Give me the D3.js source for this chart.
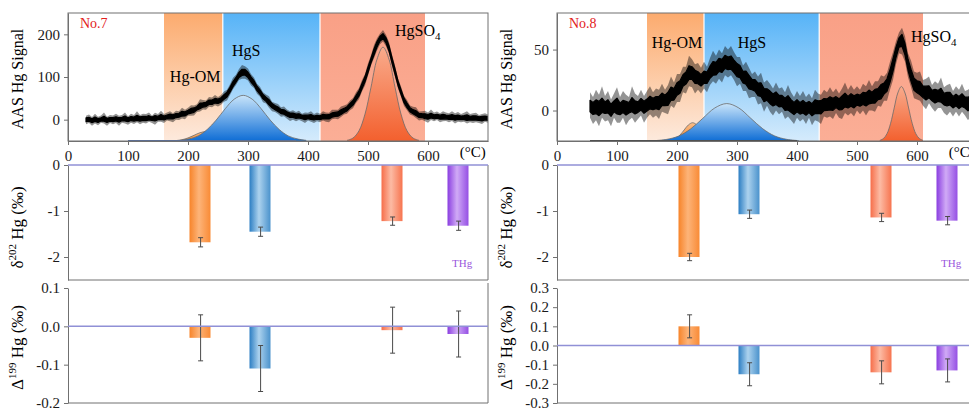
<!DOCTYPE html>
<html>
<head>
<meta charset="utf-8">
<script src="https://d3js.org/d3.v7.min.js"></script>
<style>
body { margin:0; background:#fff; }
svg { display:block; }
text { font-family:"Liberation Serif", "DejaVu Serif", serif; }
.axis path, .axis line { stroke:#707070; }
.axis text { font-size:15px; fill:#1a1a1a; }
</style>
</head>
<body>
<svg id="chart"></svg>
<script>
//data
var tempTicks = [0, 100, 200, 300, 400, 500, 600];
var species = ["Hg-OM", "HgS", "HgSO4", "THg"];
var barTemps = [220, 320, 540, 650];
var sigStep = 5;

// No.7 : AAS trace (centre of the noisy band, and its upper / lower spike reach), every 5 °C from 30 °C
var sigNo7Start = 30;
var sigNo7 = [0, 0, -1, 0, -1, 0, 1, 0, 0, 1,
  1, 1, 1, 2, 1, 2, 2, 2, 3, 3,
  3, 3, 3, 4, 4, 5, 5, 6, 7, 8,
  9, 11, 13, 15, 17, 20, 23, 27, 31, 34,
  37, 40, 41, 43, 44, 46, 52, 60, 70, 82,
  94, 104, 110, 112, 104, 95, 85, 74, 64, 55,
  47, 40, 34, 28, 24, 20, 17, 14, 12, 10,
  9, 8, 7, 6, 6, 5, 5, 5, 5, 6,
  7, 8, 10, 12, 14, 17, 21, 26, 32, 40,
  50, 62, 78, 96, 116, 138, 158, 177, 190, 195,
  186, 166, 140, 112, 86, 64, 46, 33, 24, 18,
  14, 11, 9, 8, 8, 8, 7, 7, 7, 6,
  6, 6, 5, 5, 5, 5, 4, 4, 4, 4,
  3, 3, 3, 3, 3];
var hiNo7 = [9, 12, 7, 14, 8, 10, 16, 7, 11, 9,
  13, 8, 10, 15, 7, 12, 9, 18, 8, 11,
  10, 14, 7, 12, 9, 16, 8, 11, 13, 7,
  12, 9, 15, 8, 11, 14, 10, 9, 17, 12,
  8, 13, 11, 15, 9, 12, 14, 10, 13, 16,
  11, 15, 18, 13, 16, 12, 14, 10, 13, 9,
  12, 15, 8, 11, 13, 9, 14, 10, 8, 12,
  9, 13, 7, 11, 10, 15, 8, 12, 9, 14,
  10, 8, 13, 11, 9, 14, 12, 10, 13, 11,
  14, 12, 15, 11, 16, 13, 17, 14, 12, 15,
  13, 16, 12, 15, 11, 14, 10, 13, 9, 12,
  15, 8, 11, 13, 9, 16, 10, 12, 8, 14,
  11, 9, 15, 10, 13, 8, 12, 16, 9, 11,
  13, 8, 10, 12, 9];
var loNo7 = [11, 8, 13, 9, 12, 7, 10, 14, 8, 12,
  9, 15, 8, 11, 13, 9, 12, 8, 14, 10,
  12, 8, 11, 16, 9, 10, 13, 8, 11, 14,
  9, 12, 10, 14, 8, 11, 13, 9, 12, 10,
  14, 10, 12, 9, 13, 11, 10, 15, 12, 11,
  13, 11, 14, 16, 12, 15, 11, 13, 10, 14,
  9, 12, 14, 10, 11, 13, 9, 12, 15, 10,
  13, 9, 11, 14, 8, 10, 13, 9, 11, 8,
  12, 14, 9, 10, 13, 11, 9, 12, 10, 13,
  11, 14, 12, 16, 13, 11, 14, 15, 13, 12,
  14, 11, 15, 12, 13, 10, 14, 11, 12, 9,
  10, 13, 9, 12, 15, 9, 11, 8, 13, 10,
  9, 12, 8, 14, 10, 11, 9, 13, 10, 12,
  9, 11, 13, 8, 10];
var regionsNo7 = [[160, 258], [258, 420], [420, 595]];
var peakOMNo7 = [[180,-49],[190,-47],[200,-42.8],[210,-36.7],[220,-30.6],[230,-28],[240,-30.6],[250,-36.7],[260,-42.8],[270,-47],[280,-49]];
var peakSNo7 = [[187,-48.5],[202,-45],[217,-38],[232,-23],[247,-1],[262,25.6],[277,48],[292,57],[307,48],[322,25.6],[337,-1],[352,-23],[367,-38],[382,-45],[397,-48.5]];
var peakSO4No7 = [[465,-48.5],[475,-43],[485,-26],[495,13],[505,76],[515,141.6],[525,170],[535,141.6],[545,76],[555,13],[565,-26],[575,-43],[585,-48.5]];
var d202No7 = [-1.68, -1.45, -1.22, -1.32];
var d202ErrNo7 = [0.1, 0.1, 0.09, 0.1];
var d199No7 = [-0.03, -0.11, -0.01, -0.02];
var d199ErrNo7 = [0.06, 0.06, 0.06, 0.06];

// No.8 : every 5 °C from 55 °C
var sigNo8Start = 55;
var sigNo8 = [3, 3, 2, 3, 2, 3, 3, 2, 3, 3,
  2, 2, 3, 3, 3, 3, 3, 4, 4, 4,
  5, 6, 6, 7, 8, 9, 10, 12, 14, 17,
  20, 24, 28, 30, 31, 29, 26, 25, 26, 28,
  31, 33, 35, 37, 38, 39, 39, 38, 36, 34,
  31, 28, 26, 24, 22, 20, 18, 16, 14, 12,
  11, 10, 9, 8, 7, 6, 5, 4, 3, 3,
  2, 2, 2, 2, 2, 2, 3, 4, 4, 5,
  5, 6, 6, 6, 7, 7, 7, 8, 8, 8,
  9, 9, 10, 10, 11, 12, 13, 15, 18, 22,
  28, 38, 48, 56, 58, 50, 38, 28, 22, 19,
  17, 16, 15, 14, 13, 12, 12, 11, 10, 10,
  9, 8, 8, 7, 7, 7, 6, 6, 6, 6];
var hiNo8 = [12, 8, 15, 10, 18, 9, 13, 7, 11, 16,
  9, 14, 10, 8, 17, 11, 9, 13, 8, 12,
  15, 9, 12, 10, 14, 8, 11, 16, 9, 13,
  10, 12, 8, 15, 11, 9, 13, 10, 14, 8,
  12, 16, 10, 13, 9, 14, 11, 15, 12, 10,
  13, 9, 14, 11, 8, 12, 10, 15, 9, 13,
  11, 8, 14, 10, 12, 9, 16, 11, 8, 13,
  10, 14, 9, 12, 8, 15, 11, 9, 13, 10,
  14, 9, 12, 8, 11, 16, 10, 13, 9, 12,
  8, 13, 10, 15, 9, 12, 11, 14, 10, 9,
  12, 10, 9, 8, 10, 11, 9, 13, 10, 12,
  15, 9, 11, 14, 8, 12, 10, 16, 9, 11,
  13, 8, 12, 10, 15, 9, 11, 13, 8, 12];
var loNo8 = [9, 14, 10, 16, 8, 12, 11, 15, 9, 13,
  12, 8, 15, 11, 9, 13, 10, 8, 14, 10,
  8, 12, 10, 14, 9, 11, 13, 8, 12, 10,
  13, 9, 14, 10, 12, 15, 9, 11, 8, 13,
  10, 9, 13, 11, 15, 10, 12, 9, 11, 14,
  9, 12, 10, 14, 11, 9, 13, 10, 15, 8,
  12, 14, 9, 11, 8, 13, 10, 12, 14, 9,
  11, 9, 13, 8, 14, 10, 12, 15, 9, 11,
  10, 13, 8, 12, 14, 9, 11, 10, 13, 8,
  12, 9, 14, 10, 11, 13, 9, 12, 10, 14,
  11, 13, 10, 9, 12, 10, 11, 9, 12, 10,
  9, 12, 14, 8, 11, 13, 10, 9, 12, 14,
  10, 13, 9, 12, 8, 11, 14, 10, 12, 9];
var regionsNo8 = [[150, 245], [245, 437], [437, 610]];
var peakOMNo8 = [[191,-24.3],[198,-23],[205,-20.1],[212,-15.9],[219,-11.8],[226,-10],[233,-11.8],[240,-15.9],[247,-20.1],[254,-23],[261,-24.3]];
var peakSNo8 = [[163,-24.7],[183,-23.65],[203,-20.9],[223,-15],[243,-6.4],[263,2.1],[283,5.7],[303,2.1],[323,-6.4],[343,-15],[363,-20.9],[383,-23.65],[403,-24.7]];
var peakSO4No8 = [[538,-24.5],[544,-23],[550,-19],[556,-10.5],[562,2.1],[568,14.4],[574,19.7],[580,14.4],[586,2.1],[592,-10.5],[598,-19],[604,-23],[610,-24.5]];
var d202No8 = [-2.0, -1.07, -1.14, -1.21];
var d202ErrNo8 = [0.08, 0.09, 0.09, 0.09];
var d199No8 = [0.10, -0.15, -0.14, -0.13];
var d199ErrNo8 = [0.06, 0.06, 0.06, 0.06];

//layout conf.
var svgWidth = 969, svgHeight = 410,
    plotWidth = 420,
    sigTop = 13, sigBottom = 141,
    d202Top = 165, d202Bottom = 280,
    d199Top = 288, d199Bottom = 403,
    barWidthT = 35,
    coreShare = 0.45;   // solid core of the noisy trace, as share of the spike reach

var panels = [
  { x0: 68, name: "No.7", start: sigNo7Start, sig: sigNo7, hi: hiNo7, lo: loNo7, regions: regionsNo7,
    peaks: [peakOMNo7, peakSNo7, peakSO4No7], sigDomain: [-50, 250], sigTicks: [0, 100, 200],
    d202: d202No7, d202Err: d202ErrNo7, d199: d199No7, d199Err: d199ErrNo7,
    d199Domain: [-0.2, 0.1], d199Ticks: [-0.2, -0.1, 0, 0.1],
    baseLine: [100, 380], baseColor: "#4a6db3",
    lab: { om: [212, 100], s: [297, 160], so4: [545, 207] } },
  { x0: 557, name: "No.8", start: sigNo8Start, sig: sigNo8, hi: hiNo8, lo: loNo8, regions: regionsNo8,
    peaks: [peakOMNo8, peakSNo8, peakSO4No8], sigDomain: [-25, 80], sigTicks: [0, 50],
    d202: d202No8, d202Err: d202ErrNo8, d199: d199No8, d199Err: d199ErrNo8,
    d199Domain: [-0.3, 0.3], d199Ticks: [-0.3, -0.2, -0.1, 0, 0.1, 0.2, 0.3],
    baseLine: [55, 400], baseColor: "#333",
    lab: { om: [200, 55], s: [325, 55], so4: [590, 60] } }
];

var svg = d3.select("#chart").attr("width", svgWidth).attr("height", svgHeight);
var defs = svg.append("defs");

function vGrad(id, c0, c1) {
  var g = defs.append("linearGradient").attr("id", id)
    .attr("x1", 0).attr("y1", 0).attr("x2", 0).attr("y2", 1);
  g.append("stop").attr("offset", 0).attr("stop-color", c0);
  g.append("stop").attr("offset", 1).attr("stop-color", c1);
}
function hGrad(id, c0, c1, c2) {
  var g = defs.append("linearGradient").attr("id", id)
    .attr("x1", 0).attr("y1", 0).attr("x2", 1).attr("y2", 0);
  g.append("stop").attr("offset", 0).attr("stop-color", c0);
  g.append("stop").attr("offset", 0.45).attr("stop-color", c1);
  g.append("stop").attr("offset", 1).attr("stop-color", c2);
}
vGrad("regOM", "#fcab6e", "#fdeadd");
vGrad("regS", "#56b3f7", "#d5ebfc");
vGrad("regSO4", "#f9a086", "#fbae96");
vGrad("pkOM", "#fbbe8a", "#f6872b");
vGrad("pkS", "#c8e4fa", "#0e6dd5");
vGrad("pkSO4", "#f9ab8c", "#f3602e");
hGrad("bar0", "#f7842a", "#fdb479", "#f98b36");
hGrad("bar1", "#2c7ec3", "#acd2ee", "#4a92cc");
hGrad("bar2", "#f66e4a", "#fcbba4", "#f7744f");
hGrad("bar3", "#8a3ee0", "#d0aaf6", "#9550e4");

var regionFills = ["url(#regOM)", "url(#regS)", "url(#regSO4)"];
var peakFills = ["url(#pkOM)", "url(#pkS)", "url(#pkSO4)"];
var fmtInt = function(d) { return String(d); };
var fmt1 = function(d) { return d.toFixed(1); };
var serif = "'Liberation Serif', 'DejaVu Serif', serif";

panels.forEach(function(p, pi) {
  var x = d3.scaleLinear().domain([0, 700]).range([0, plotWidth]);
  var ySig = d3.scaleLinear().domain(p.sigDomain).range([sigBottom, sigTop]);
  var y202 = d3.scaleLinear().domain([-2.5, 0]).range([d202Bottom, d202Top]);
  var y199 = d3.scaleLinear().domain(p.d199Domain).range([d199Bottom, d199Top]);

  var g = svg.append("g").attr("transform", "translate(" + [p.x0, 0] + ")");

  // ---- thermal release panel
  var clipId = "clip" + pi;
  defs.append("clipPath").attr("id", clipId).append("rect")
    .attr("x", 0).attr("y", sigTop).attr("width", plotWidth).attr("height", sigBottom - sigTop);
  var top = g.append("g").attr("clip-path", "url(#" + clipId + ")");

  top.selectAll(".region").data(p.regions).enter().append("rect")
    .attr("x", function(d) { return x(d[0]); })
    .attr("width", function(d) { return x(d[1]) - x(d[0]); })
    .attr("y", sigTop).attr("height", sigBottom - sigTop)
    .style("fill", function(d, i) { return regionFills[i]; });
  top.selectAll(".sep").data(p.regions.slice(1)).enter().append("line")
    .attr("x1", function(d) { return x(d[0]); }).attr("x2", function(d) { return x(d[0]); })
    .attr("y1", sigTop).attr("y2", sigBottom)
    .style("stroke", "#fff").style("stroke-width", 1.2);

  var area = d3.area().curve(d3.curveCatmullRom)
    .x(function(d) { return x(d[0]); }).y0(sigBottom).y1(function(d) { return ySig(d[1]); });
  var pline = d3.line().curve(d3.curveCatmullRom)
    .x(function(d) { return x(d[0]); }).y(function(d) { return ySig(d[1]); });
  p.peaks.forEach(function(pk, i) {
    top.append("path").attr("d", area(pk)).style("fill", peakFills[i]);
    top.append("path").attr("d", pline(pk))
      .style("fill", "none").style("stroke", "#6a6a6a").style("stroke-width", 0.8);
  });

  top.append("line")
    .attr("x1", x(p.baseLine[0])).attr("x2", x(p.baseLine[1]))
    .attr("y1", sigBottom - 0.5).attr("y2", sigBottom - 0.5)
    .style("stroke", p.baseColor).style("stroke-width", 1);

  // noisy AAS trace: light spike envelope + solid core
  var tx = function(d, i) { return x(p.start + i * sigStep); };
  var spikes = d3.area().x(tx)
    .y0(function(d, i) { return ySig(d - p.lo[i]); })
    .y1(function(d, i) { return ySig(d + p.hi[i]); });
  var core = d3.area().x(tx)
    .y0(function(d, i) { return ySig(d - p.lo[i] * coreShare); })
    .y1(function(d, i) { return ySig(d + p.hi[i] * coreShare); });
  top.append("path").attr("d", spikes(p.sig))
    .style("fill", "#000").style("fill-opacity", 0.42);
  top.append("path").attr("d", core(p.sig))
    .style("fill", "#000").style("stroke", "#000").style("stroke-width", 1.2)
    .style("stroke-linejoin", "round");

  // labels
  g.append("text").attr("x", 12).attr("y", 28).text(p.name)
    .style("font-size", "14px").style("fill", "#e3201b");
  g.append("text").attr("x", x(p.lab.om[0])).attr("y", ySig(p.lab.om[1]) + 5)
    .attr("text-anchor", "middle").style("font-size", "16px").text("Hg-OM");
  g.append("text").attr("x", x(p.lab.s[0])).attr("y", ySig(p.lab.s[1]) + 5)
    .attr("text-anchor", "middle").style("font-size", "16px").text("HgS");
  var so4 = g.append("text").attr("x", x(p.lab.so4[0])).attr("y", ySig(p.lab.so4[1]) + 5)
    .style("font-size", "16px").text("HgSO");
  so4.append("tspan").attr("dy", 4).style("font-size", "11px").text("4");

  g.append("rect").attr("x", 0).attr("y", sigTop).attr("width", plotWidth).attr("height", sigBottom - sigTop)
    .style("fill", "none").style("stroke", "#707070");
  g.append("g").classed("axis", true).attr("transform", "translate(0," + sigBottom + ")")
    .call(d3.axisBottom(x).tickValues(tempTicks).tickSize(4).tickSizeOuter(0).tickPadding(5).tickFormat(fmtInt))
    .attr("font-family", serif);
  g.append("g").classed("axis", true)
    .call(d3.axisLeft(ySig).tickValues(p.sigTicks).tickSize(4).tickSizeOuter(0).tickPadding(4).tickFormat(fmtInt))
    .attr("font-family", serif);
  g.append("text").attr("x", x(653)).attr("y", 157).style("font-size", "15px").text("(°C)");
  g.append("text").attr("transform", "translate(" + [-45, (sigTop + sigBottom) / 2 + 2] + ") rotate(-90)")
    .attr("text-anchor", "middle").style("font-size", "16px").text("AAS Hg Signal");

  // ---- delta202 panel
  g.append("g").classed("axis", true)
    .call(d3.axisLeft(y202).tickValues([-2, -1, 0]).tickSize(4).tickSizeOuter(0).tickPadding(4).tickFormat(fmtInt))
    .attr("font-family", serif);
  g.append("path").attr("d", "M" + [0, d202Bottom] + "H" + plotWidth + "V" + d202Top)
    .style("fill", "none").style("stroke", "#707070");
  drawBars(g, x, y202, p.d202, p.d202Err);
  g.append("line").attr("x1", 0).attr("x2", plotWidth).attr("y1", y202(0)).attr("y2", y202(0))
    .style("stroke", "#9090d6").style("stroke-width", 1.5);
  g.append("text").attr("x", x(657)).attr("y", y202(-2.22))
    .attr("text-anchor", "middle").style("font-size", "11px").style("fill", "#9a55dc").text("THg");
  var t202 = g.append("text").attr("transform", "translate(" + [-45, (d202Top + d202Bottom) / 2 + 5] + ") rotate(-90)")
    .attr("text-anchor", "middle").style("font-size", "17px");
  t202.append("tspan").text("δ");
  t202.append("tspan").attr("dy", -7).style("font-size", "11px").text("202");
  t202.append("tspan").attr("dy", 7).text(" Hg (‰)");

  // ---- Delta199 panel
  g.append("g").classed("axis", true)
    .call(d3.axisLeft(y199).tickValues(p.d199Ticks).tickSize(4).tickSizeOuter(0).tickPadding(4).tickFormat(fmt1))
    .attr("font-family", serif);
  g.append("path").attr("d", "M" + [0, d199Bottom] + "H" + plotWidth + "V" + (d199Top - 5))
    .style("fill", "none").style("stroke", "#707070");
  drawBars(g, x, y199, p.d199, p.d199Err);
  g.append("line").attr("x1", 0).attr("x2", plotWidth).attr("y1", y199(0)).attr("y2", y199(0))
    .style("stroke", "#9090d6").style("stroke-width", 1.5);
  var t199 = g.append("text").attr("transform", "translate(" + [-45, (d199Top + d199Bottom) / 2 + 2] + ") rotate(-90)")
    .attr("text-anchor", "middle").style("font-size", "17px");
  t199.append("tspan").text("Δ");
  t199.append("tspan").attr("dy", -7).style("font-size", "11px").text("199");
  t199.append("tspan").attr("dy", 7).text(" Hg (‰)");
});

function drawBars(g, x, y, vals, errs) {
  var bars = g.append("g").selectAll(".bar").data(vals).enter().append("g");
  bars.append("rect")
    .attr("x", function(d, i) { return x(barTemps[i] - barWidthT / 2); })
    .attr("width", function(d, i) { return x(barTemps[i] + barWidthT / 2) - x(barTemps[i] - barWidthT / 2); })
    .attr("y", function(d) { return Math.min(y(0), y(d)); })
    .attr("height", function(d) { return Math.abs(y(d) - y(0)); })
    .style("fill", function(d, i) { return "url(#bar" + i + ")"; });
  bars.append("path")
    .attr("d", function(d, i) {
      var cx = x(barTemps[i] + 1), y1 = y(d - errs[i]), y2 = y(d + errs[i]);
      return "M" + [cx, y1] + "V" + y2 + "M" + [cx - 2.5, y1] + "H" + (cx + 2.5) + "M" + [cx - 2.5, y2] + "H" + (cx + 2.5);
    })
    .style("fill", "none").style("stroke", "#4a4a4a").style("stroke-width", 1);
}
</script>
</body>
</html>
